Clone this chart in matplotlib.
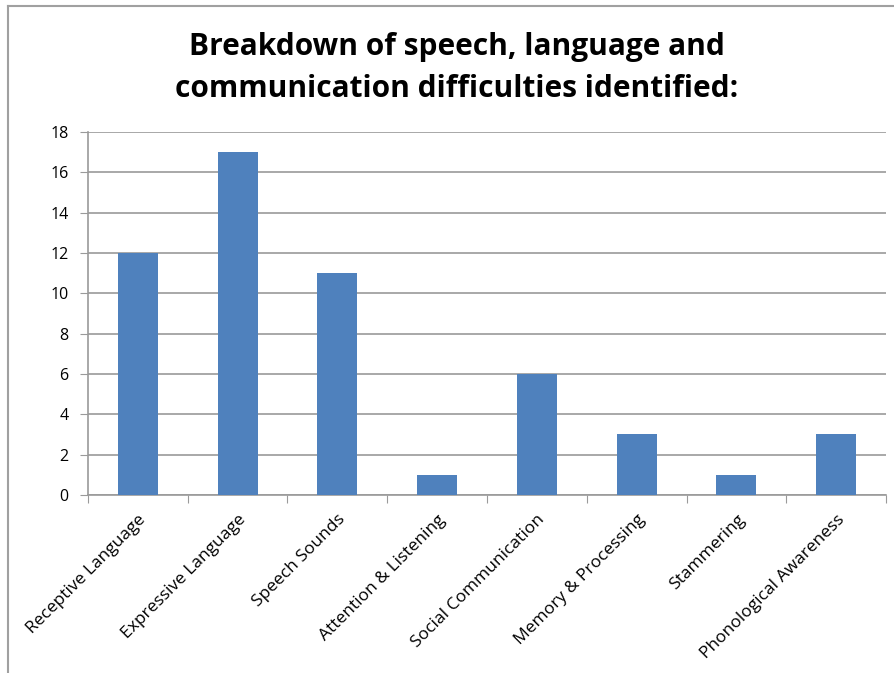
import numpy as np
import matplotlib.pyplot as plt
from matplotlib.lines import Line2D

categories = ["Receptive Language", "Expressive Language", "Speech Sounds",
              "Attention & Listening", "Social Communication",
              "Memory & Processing", "Stammering", "Phonological Awareness"]
counts = [12, 17, 11, 1, 6, 3, 1, 3]
yticks = [0, 2, 4, 6, 8, 10, 12, 14, 16, 18]

plt.rcParams['font.family'] = ['Open Sans', 'DejaVu Sans']

fig = plt.figure(figsize=(8.95, 6.73), dpi=100)
ax = fig.add_axes([0.0983, 0.2645, 0.8917, 0.5394])

x = np.arange(len(categories))
ax.bar(x, counts, width=0.4, color="#4F81BD", zorder=3)

ax.set_xlim(-0.5, len(categories) - 0.5)
ax.set_ylim(0, 18)
ax.set_yticks(yticks)
ax.set_yticklabels([str(v) for v in yticks], fontsize=11.5)
ax.yaxis.grid(True, color="#9a9a9a", linewidth=1.2, zorder=0)

# category boundaries as tick marks, labels at centers
ax.set_xticks(np.arange(-0.5, len(categories), 1.0))
ax.set_xticklabels([])
ax.set_xticks(x, minor=True)
ax.set_xticklabels(categories, minor=True, rotation=45, ha='right', va='top',
                   rotation_mode='anchor', fontsize=12.5)
ax.tick_params(axis='x', which='major', length=6, color="#9a9a9a", direction='out')
ax.tick_params(axis='x', which='minor', length=0, pad=12)
ax.tick_params(axis='y', length=6, color="#9a9a9a", pad=8)

for s in ['top', 'right']:
    ax.spines[s].set_visible(False)
for s in ['left', 'bottom']:
    ax.spines[s].set_color("#9a9a9a")
    ax.spines[s].set_linewidth(1.2)

fig.text(0.51, 0.899, "Breakdown of speech, language and\ncommunication difficulties identified:",
         ha='center', va='center', fontsize=21.5, fontweight='bold', linespacing=1.5)

# outer chart border (left and top edges visible)
fig.add_artist(Line2D([8 / 895, 8 / 895], [0, 1 - 6 / 673], transform=fig.transFigure,
                      color="#a0a0a0", linewidth=1.5))
fig.add_artist(Line2D([8 / 895, 1], [1 - 6 / 673, 1 - 6 / 673], transform=fig.transFigure,
                      color="#a0a0a0", linewidth=1.5))

fig.savefig("out.png", dpi=100)
